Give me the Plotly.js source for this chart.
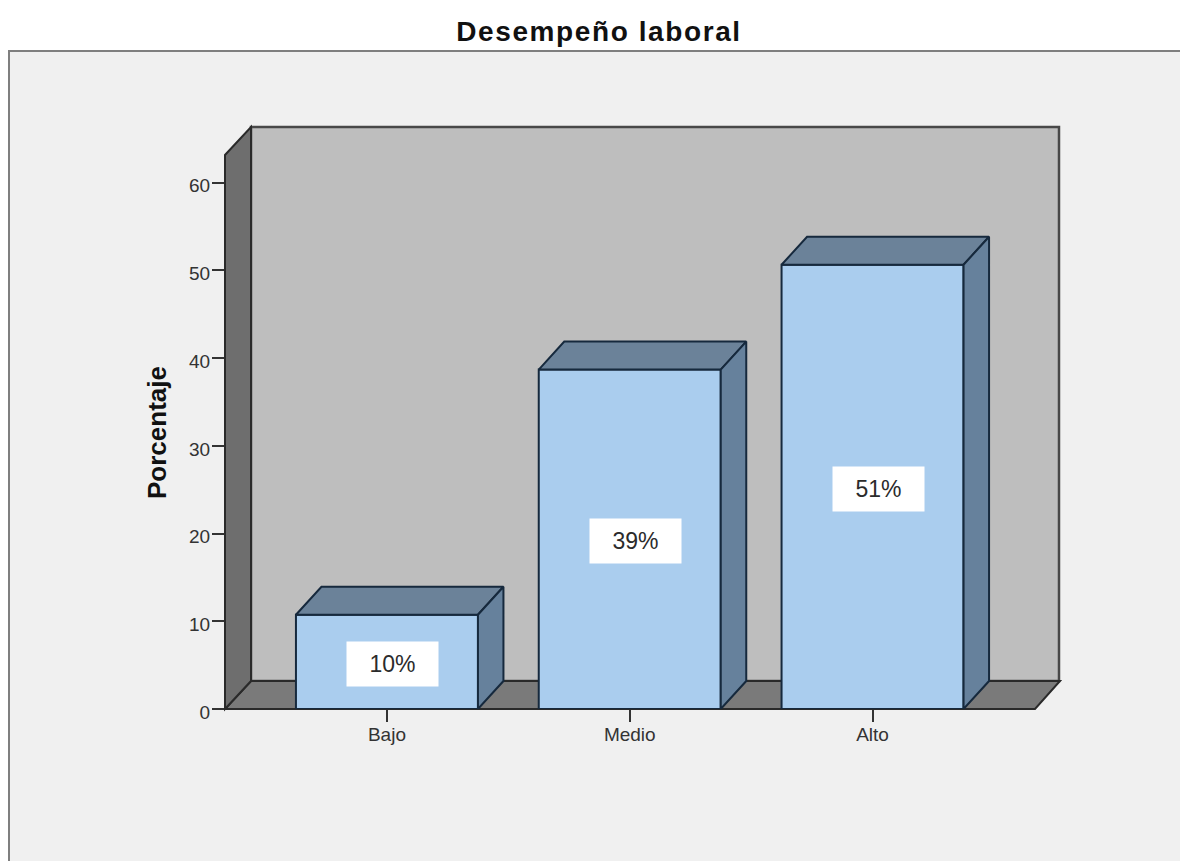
<!DOCTYPE html>
<html>
<head>
<meta charset="utf-8">
<script src="https://cdn.plot.ly/plotly-3.0.1.min.js"></script>
<style>
html,body{margin:0;padding:0;background:#fff;overflow:hidden}
#chart{width:1180px;height:861px}
#chart .gtitle{letter-spacing:1.6px}
</style>
</head>
<body>
<div id="chart"></div>
<script>
var categories = ["Bajo", "Medio", "Alto"];
var values = [10.75, 38.7, 50.65];
var labels = ["10%", "39%", "51%"];
var yTicks = [0, 10, 20, 30, 40, 50, 60];

var W = 1180, H = 861;
var mL = 225, mR = 120, mT = 156, mB = 152;
var xRange = [-0.667, 2.772];
var yRange = [0, 63.05];
var pxX = (W - mL - mR) / (xRange[1] - xRange[0]);
var dx = 25.5 / pxX, dy = 28 / 8.77;       // oblique depth of the pseudo-3D box
var barW = 182 / pxX;
var xs = categories.map(function (c, i) { return i; });

function pX(p) { return (p - mL) / (W - mL - mR); }
function pY(p) { return 1 - (p - mT) / (H - mT - mB); }
function wall(pts, fill, col, w) {
  return {type: "path", xref: "paper", yref: "paper", layer: "below",
          path: "M" + pts.map(function (p) { return pX(p[0]) + "," + pY(p[1]); }).join("L") + "Z",
          fillcolor: fill, line: {color: col, width: w}};
}

var shapes = [
  {type: "rect", xref: "paper", yref: "paper", layer: "below",
   x0: pX(9), x1: pX(1200), y0: pY(51), y1: pY(900),
   fillcolor: "#f0f0f0", line: {color: "#7f7f7f", width: 2}},
  wall([[251, 681], [251, 127], [1059, 127], [1059, 681]], "#bebebe", "#484848", 2.5),
  wall([[225, 709], [1035, 709], [1060, 681], [251, 681]], "#7a7a7a", "#2a2a2a", 2),
  wall([[225, 709], [225, 155], [251, 127], [251, 681]], "#6e6e6e", "#2a2a2a", 2)
];

var outline = "#16293d";
var traces = [{
  type: "bar", x: xs, y: values, width: barW,
  marker: {color: "#aacdee", line: {color: outline, width: 2}},
  hoverinfo: "skip", showlegend: false
}];
xs.forEach(function (x, i) {
  var l = x - barW / 2, r = x + barW / 2, v = values[i];
  traces.push({
    type: "scatter", mode: "lines", fill: "toself", fillcolor: "#6b8299",
    x: [l, r, r + dx, l + dx, l], y: [v, v, v + dy, v + dy, v],
    line: {color: outline, width: 2}, hoverinfo: "skip", showlegend: false, cliponaxis: false
  });
  traces.push({
    type: "scatter", mode: "lines", fill: "toself", fillcolor: "#66819c",
    x: [r, r + dx, r + dx, r, r], y: [0, dy, v + dy, v, 0],
    line: {color: outline, width: 2}, hoverinfo: "skip", showlegend: false, cliponaxis: false
  });
});

var annotations = xs.map(function (x, i) {
  return {
    x: x + 5.5 / pxX, y: values[i] / 2 - 0.25, xref: "x", yref: "y",
    text: labels[i], showarrow: false, bgcolor: "#ffffff", width: 89, height: 42,
    xanchor: "center", yanchor: "middle", valign: "middle",
    font: {family: "Liberation Sans", size: 23, color: "#2b2b2b"}
  };
});

var layout = {
  width: W, height: H,
  margin: {l: mL, r: mR, t: mT, b: mB, pad: 0},
  paper_bgcolor: "#ffffff", plot_bgcolor: "rgba(0,0,0,0)",
  title: {text: "Desempeño laboral", x: 599 / W, xanchor: "center", xref: "container",
          y: 1 - 31 / H, yanchor: "middle", yref: "container",
          font: {family: "Liberation Sans", size: 28, color: "#111111", weight: "bold"}},
  bargap: 0, showlegend: false,
  xaxis: {range: xRange, tickvals: xs, ticktext: categories, ticks: "outside", ticklen: 12,
          tickwidth: 2, tickcolor: "#333333", showgrid: false, zeroline: false, showline: false,
          ticklabelstandoff: -4,
          tickfont: {family: "Liberation Sans", size: 19, color: "#333333"}, fixedrange: true},
  yaxis: {range: yRange, tickvals: yTicks, ticks: "outside", ticklen: 12,
          tickwidth: 2, tickcolor: "#333333", showgrid: false, zeroline: false, showline: false,
          ticklabelstandoff: -2, ticklabelshift: 3,
          title: {text: "Porcentaje", standoff: 14, font: {family: "Liberation Sans", size: 26, color: "#111111", weight: "bold"}},
          tickfont: {family: "Liberation Sans", size: 19, color: "#333333"}, fixedrange: true},
  shapes: shapes, annotations: annotations
};
Plotly.newPlot("chart", traces, layout, {displayModeBar: false, staticPlot: true});
</script>
</body>
</html>
